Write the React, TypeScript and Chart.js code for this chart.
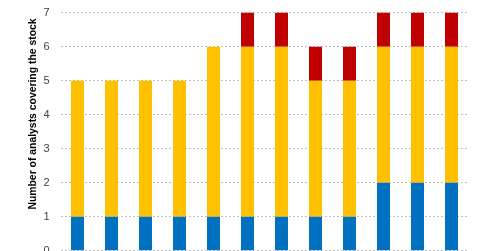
import React, { useEffect, useRef } from "react";
import { Chart, registerables } from "chart.js";

Chart.register(...registerables);

const categories = ["1", "2", "3", "4", "5", "6", "7", "8", "9", "10", "11", "12"];
const blueValues = [1, 1, 1, 1, 1, 1, 1, 1, 1, 2, 2, 2];
const yellowValues = [4, 4, 4, 4, 5, 5, 5, 4, 4, 4, 4, 4];
const redValues = [0, 0, 0, 0, 0, 1, 1, 1, 1, 1, 1, 1];
const yTitle = "Number of analysts covering the stock";

const titlePlugin = {
  id: "yTitleManual",
  afterDraw(chart: any) {
    const ctx = chart.ctx;
    ctx.save();
    ctx.translate(33.5, 119);
    ctx.rotate(-Math.PI / 2);
    ctx.font = "bold 10.4px 'Liberation Sans', Arial, sans-serif";
    ctx.fillStyle = "#000000";
    ctx.textAlign = "center";
    ctx.textBaseline = "middle";
    ctx.fillText(yTitle, 0, 0);
    ctx.restore();
  },
};

export default function App() {
  const ref = useRef<HTMLCanvasElement | null>(null);
  useEffect(() => {
    document.body.style.margin = "0";
    const chart = new Chart(ref.current as HTMLCanvasElement, {
      type: "bar",
      data: {
        labels: categories,
        datasets: [
          { label: "Blue", data: blueValues, backgroundColor: "#0070C0", barPercentage: 1, categoryPercentage: 0.382 },
          { label: "Yellow", data: yellowValues, backgroundColor: "#FFC000", barPercentage: 1, categoryPercentage: 0.382 },
          { label: "Red", data: redValues, backgroundColor: "#C00000", barPercentage: 1, categoryPercentage: 0.382 },
        ],
      },
      options: {
        responsive: false,
        animation: false,
        layout: { padding: { top: 7, bottom: 24.2, left: 0, right: 11.5 } },
        plugins: { legend: { display: false }, tooltip: { enabled: false } },
        scales: {
          x: { stacked: true, display: false },
          y: {
            stacked: true,
            min: 0,
            max: 7,
            ticks: {
              stepSize: 1,
              padding: 11,
              color: "#404040",
              font: { family: "'Liberation Sans', Arial, sans-serif", size: 11 },
            },
            border: { display: false, dash: [2, 2] },
            grid: {
              color: "#BFBFBF",
              lineWidth: 1,
              drawTicks: false,
            },
            afterFit(scale: any) {
              scale.width = 60.5;
            },
          },
        },
      },
      plugins: [titlePlugin],
    } as any);
    return () => chart.destroy();
  }, []);
  return (
    <div style={{ position: "absolute", left: 0, top: -5, width: 480, height: 280 }}>
      <canvas ref={ref} width={480} height={280} />
    </div>
  );
}
